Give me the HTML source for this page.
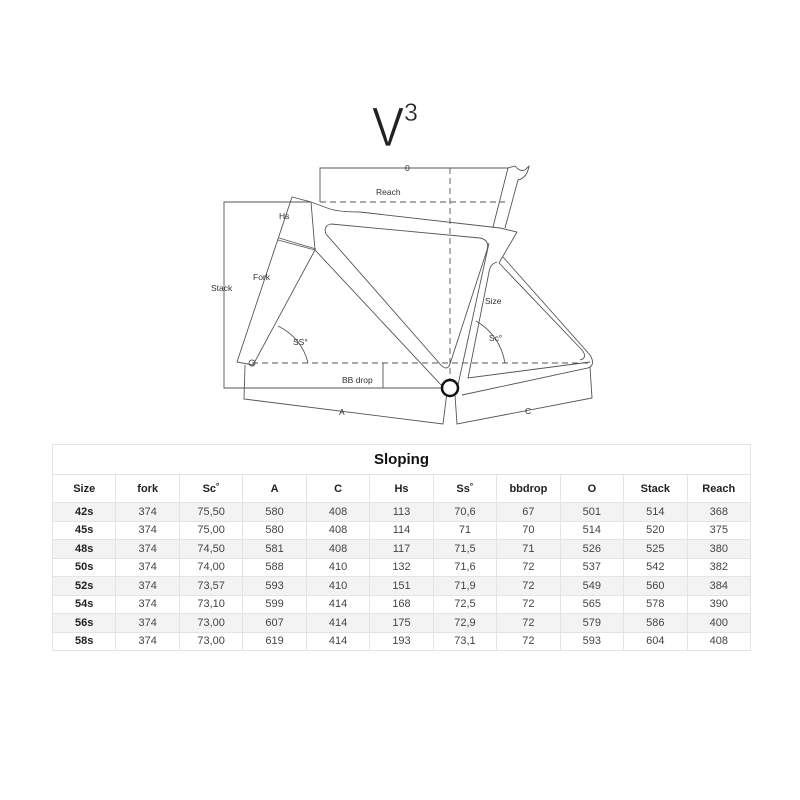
<!DOCTYPE html>
<html><head><meta charset="utf-8"><style>
html,body{margin:0;padding:0;background:#fff;width:800px;height:800px;overflow:hidden;font-family:"Liberation Sans",sans-serif}
svg{position:absolute;left:0;top:0}
table{position:absolute;left:52px;top:444px;width:699px;border-collapse:collapse;table-layout:fixed}
td{border:1px solid #e4e4e4;text-align:center;font-size:11px;color:#444;height:17.5px;padding:0}
tr.t td{height:29px;font-size:15px;font-weight:bold;color:#111}
tr.h td{height:27px;font-weight:bold;color:#222;font-size:11px}
tr.g td{background:#f3f3f3}
td.b{font-weight:bold;color:#222}
</style></head><body>
<svg width="800" height="440" viewBox="0 0 800 440" fill="none" stroke="#555" stroke-width="0.9">
<text x="372" y="146" font-family="Liberation Sans" font-size="56" fill="#222" stroke="#fff" stroke-width="0.8" textLength="32" lengthAdjust="spacingAndGlyphs">V</text>
<text x="404" y="121" font-family="Liberation Sans" font-size="25" fill="#222" stroke="#fff" stroke-width="0.4">3</text>
<!-- O / Reach -->
<path d="M320 202 V168 H508"/>
<path d="M320 202 H505" stroke-dasharray="6 4"/>
<path d="M450 168 V384" stroke-dasharray="6 4"/>
<!-- Stack -->
<path d="M310 202 H224 V388 H442"/>
<path d="M252 363 H592" stroke-dasharray="6 4"/>
<path d="M383 363 V388"/>
<!-- fork/headtube -->
<path d="M292 197 L237 362 L253 365 L315 250 L311 202 Z"/>
<path d="M278 240 L315 250"/>
<path d="M279 238 L316 249"/>
<circle cx="252" cy="363" r="3"/>
<!-- top tube & down tube -->
<path d="M311 202 L330 209 Q340 212 360 212 L500 228"/>
<path d="M315 250 L442 386"/>
<path d="M331 224 Q323 226 326 234 L440 364 Q447 372 450 364 L487 250 Q490 240 480 238 Z"/>
<!-- seat post -->
<path d="M493 227 L508 168 L515 166 Q520 172 525 170 Q530 165 529 166 Q527 178 518 180 L505 228"/>
<!-- seat tube area -->
<path d="M500 228 L517 232 L499 263"/>
<path d="M489 243 L458 385"/>
<path d="M497 262 Q490 264 489 272 L468 378 L590 362"/>
<path d="M499 263 L582 350 Q588 358 580 360"/>
<path d="M503 257 L590 355 Q596 365 588 368 L462 395"/>
<!-- A & C dims -->
<path d="M245 365 L244 399 L443 424 L447 392"/>
<path d="M455 395 L457 424 L592 398 L590 367"/>
<!-- angle arcs -->
<path d="M278 326 Q302 338 308 363"/>
<path d="M476 321 Q500 335 505 363"/>
<circle cx="450" cy="388" r="8" stroke="#111" stroke-width="2.5" fill="#fff"/>
<g font-family="Liberation Sans" font-size="8.5" fill="#333" stroke="none">
<text x="405" y="171">0</text>
<text x="376" y="195">Reach</text>
<text x="279" y="219">Hs</text>
<text x="253" y="280">Fork</text>
<text x="211" y="291">Stack</text>
<text x="485" y="304">Size</text>
<text x="293" y="345">SS°</text>
<text x="489" y="341">Sc°</text>
<text x="342" y="383">BB drop</text>
<text x="339" y="415">A</text>
<text x="525" y="414">C</text>
</g>
</svg>
<table>
<tr class="t"><td colspan="11">Sloping</td></tr>
<tr class="h"><td>Size</td><td>fork</td><td>Sc˚</td><td>A</td><td>C</td><td>Hs</td><td>Ss˚</td><td>bbdrop</td><td>O</td><td>Stack</td><td>Reach</td></tr>
<tr class="g"><td class="b">42s</td><td>374</td><td>75,50</td><td>580</td><td>408</td><td>113</td><td>70,6</td><td>67</td><td>501</td><td>514</td><td>368</td></tr>
<tr><td class="b">45s</td><td>374</td><td>75,00</td><td>580</td><td>408</td><td>114</td><td>71</td><td>70</td><td>514</td><td>520</td><td>375</td></tr>
<tr class="g"><td class="b">48s</td><td>374</td><td>74,50</td><td>581</td><td>408</td><td>117</td><td>71,5</td><td>71</td><td>526</td><td>525</td><td>380</td></tr>
<tr><td class="b">50s</td><td>374</td><td>74,00</td><td>588</td><td>410</td><td>132</td><td>71,6</td><td>72</td><td>537</td><td>542</td><td>382</td></tr>
<tr class="g"><td class="b">52s</td><td>374</td><td>73,57</td><td>593</td><td>410</td><td>151</td><td>71,9</td><td>72</td><td>549</td><td>560</td><td>384</td></tr>
<tr><td class="b">54s</td><td>374</td><td>73,10</td><td>599</td><td>414</td><td>168</td><td>72,5</td><td>72</td><td>565</td><td>578</td><td>390</td></tr>
<tr class="g"><td class="b">56s</td><td>374</td><td>73,00</td><td>607</td><td>414</td><td>175</td><td>72,9</td><td>72</td><td>579</td><td>586</td><td>400</td></tr>
<tr><td class="b">58s</td><td>374</td><td>73,00</td><td>619</td><td>414</td><td>193</td><td>73,1</td><td>72</td><td>593</td><td>604</td><td>408</td></tr>
</table>
</body></html>
